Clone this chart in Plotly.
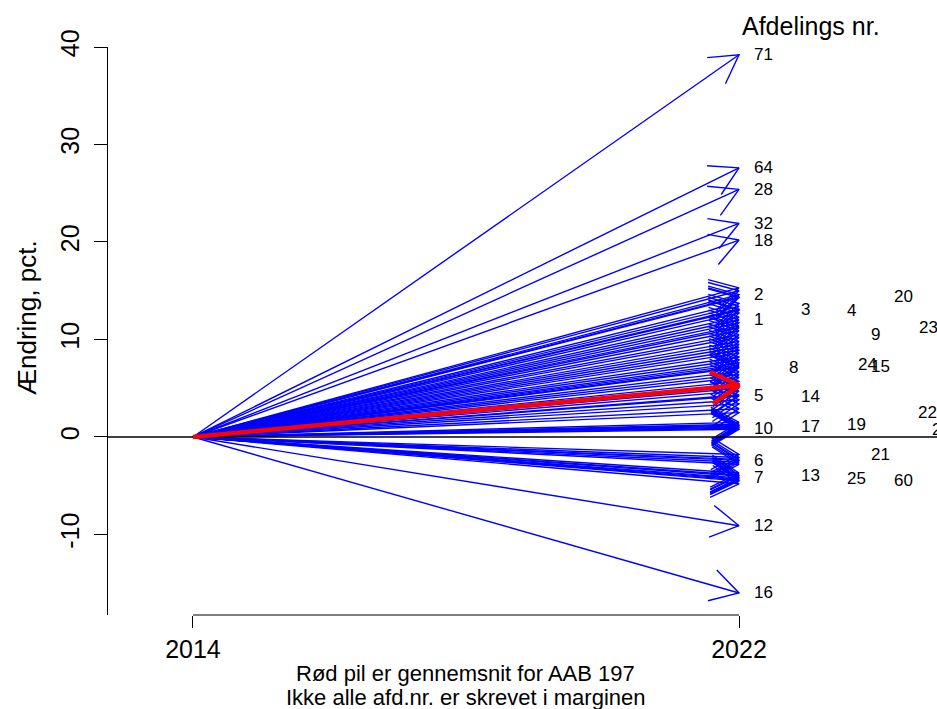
import math
import plotly.graph_objects as go

# Change 2014 -> 2022 per department (afdeling), in percent
YEAR_START = 2014
YEAR_END = 2022

# Departments whose number is written in the margin
afd_nr = [71, 64, 28, 32, 18, 2, 20, 3, 4, 1, 23, 9, 24, 15, 8,
          5, 14, 22, 19, 17, 10, 26, 21, 6, 13, 7, 25, 60, 12, 16]
afd_change = [39.2, 27.6, 25.4, 21.9, 20.2, 14.6, 14.4, 13.1, 13.0, 12.0, 11.2, 10.5, 7.4, 7.2, 7.1,
              4.3, 4.2, 2.5, 1.3, 1.1, 0.9, 0.8, -1.8, -2.4, -3.9, -4.2, -4.3, -4.5, -9.1, -16.0]

# Remaining departments (not labelled in the margin)
other_change = [15.3, 15.0, 14.3, 13.7, 13.4, 12.7, 12.3, 11.7, 11.4, 10.9, 10.2, 9.8, 9.5, 9.2,
                8.9, 8.6, 8.2, 7.9, 7.6, 6.7, 6.4, 6.1, 5.7, 5.4, 5.0, 4.7, 3.8, 3.4, 2.9,
                1.5, 1.2, 1.0, -2.1, -2.3, -2.6, -2.8, -3.7, -4.0, -4.4, -4.8]

# Average for the whole association (AAB)
mean_change = 5.3

# Y axis ticks
y_ticks = [-10, 0, 10, 20, 30, 40]

# Horizontal placement of the margin labels (years to the right of the arrow tips)
label_shift = {71: 0.19, 64: 0.19, 28: 0.19, 32: 0.19, 18: 0.19, 2: 0.19, 20: 2.24, 3: 0.88,
               4: 1.55, 1: 0.19, 23: 2.61, 9: 1.90, 24: 1.71, 15: 1.90, 8: 0.70, 5: 0.19,
               14: 0.88, 22: 2.59, 19: 1.55, 17: 0.88, 10: 0.19, 26: 2.80, 21: 1.90, 6: 0.19,
               13: 0.88, 7: 0.19, 25: 1.55, 60: 2.24, 12: 0.19, 16: 0.19}

# Layout geometry
W, H = 937, 709
M_L, M_R, M_T, M_B = 108, 0, 47, 94
PLOT_W, PLOT_H = W - M_L - M_R, H - M_T - M_B
XRANGE = [2012.755, 2024.901]
YRANGE = [-18.26, 40.0]
PX_X = PLOT_W / (XRANGE[1] - XRANGE[0])
PX_Y = PLOT_H / (YRANGE[1] - YRANGE[0])

HEAD_LEN = 32.0               # arrow head length in pixels
HEAD_ANGLE = math.radians(30)
FONT = "Liberation Sans, Arial, sans-serif"


def arrow_path(values):
    """Shaft plus open V head for each arrow from (2014, 0) to (2022, v)."""
    xs, ys = [], []
    for v in values:
        x0, y0, x1, y1 = YEAR_START, 0.0, YEAR_END, v
        ang = math.atan2((y1 - y0) * PX_Y, (x1 - x0) * PX_X)
        xs += [x0, x1, None]
        ys += [y0, y1, None]
        back = ang + math.pi
        h1 = (x1 + HEAD_LEN * math.cos(back + HEAD_ANGLE) / PX_X,
              y1 + HEAD_LEN * math.sin(back + HEAD_ANGLE) / PX_Y)
        h2 = (x1 + HEAD_LEN * math.cos(back - HEAD_ANGLE) / PX_X,
              y1 + HEAD_LEN * math.sin(back - HEAD_ANGLE) / PX_Y)
        xs += [h1[0], x1, h2[0], None]
        ys += [h1[1], y1, h2[1], None]
    return xs, ys


fig = go.Figure()

bx, by = arrow_path(afd_change + other_change)
fig.add_trace(go.Scatter(x=bx, y=by, mode="lines", line=dict(color="#0000FF", width=1.4),
                         hoverinfo="skip", showlegend=False))

# Zero reference line across the plot
fig.add_trace(go.Scatter(x=XRANGE, y=[0, 0], mode="lines", line=dict(color="black", width=1.5),
                         hoverinfo="skip", showlegend=False))

rx, ry = arrow_path([mean_change])
fig.add_trace(go.Scatter(x=rx, y=ry, mode="lines", line=dict(color="#FF0000", width=4.5),
                         hoverinfo="skip", showlegend=False))

annotations = []
for nr, v in zip(afd_nr, afd_change):
    annotations.append(dict(x=YEAR_END + label_shift[nr], y=v, xref="x", yref="y",
                            text=str(nr), showarrow=False, xanchor="left", yanchor="middle",
                            font=dict(family=FONT, size=17, color="black")))

annotations.append(dict(x=YEAR_END + 0.01, y=1 + 21 / PLOT_H, xref="x", yref="paper",
                        text="Afdelings nr.", showarrow=False, xanchor="left", yanchor="middle",
                        font=dict(family=FONT, size=25, color="black")))
annotations.append(dict(x=-81 / PLOT_W, y=1 - (318 - M_T) / PLOT_H, xref="paper", yref="paper",
                        text="Ændring, pct.", showarrow=False, textangle=-90,
                        xanchor="center", yanchor="middle",
                        font=dict(family=FONT, size=26, color="black")))
mid = (YEAR_START + YEAR_END) / 2
annotations.append(dict(x=mid, y=-58 / PLOT_H, xref="x", yref="paper",
                        text="Rød pil er gennemsnit for AAB 197", showarrow=False,
                        xanchor="center", yanchor="middle",
                        font=dict(family=FONT, size=22, color="black")))
annotations.append(dict(x=mid, y=-82 / PLOT_H, xref="x", yref="paper",
                        text="Ikke alle afd.nr. er skrevet i marginen", showarrow=False,
                        xanchor="center", yanchor="middle",
                        font=dict(family=FONT, size=22, color="black")))

fig.update_layout(
    width=W, height=H,
    margin=dict(l=M_L, r=M_R, t=M_T, b=M_B, pad=0),
    paper_bgcolor="white", plot_bgcolor="white",
    annotations=annotations,
    shapes=[dict(type="line", xref="x", yref="paper", x0=YEAR_START, x1=YEAR_END, y0=0, y1=0,
                 line=dict(color="black", width=1.2))],
    xaxis=dict(range=XRANGE, tickvals=[YEAR_START, YEAR_END],
               ticktext=[str(YEAR_START), str(YEAR_END)], ticks="outside", ticklen=12,
               tickcolor="black", tickwidth=1.2, showline=False, showgrid=False, zeroline=False,
               tickfont=dict(family=FONT, size=25, color="black")),
    yaxis=dict(range=YRANGE, tickvals=y_ticks, ticktext=[str(t) for t in y_ticks],
               ticks="outside", ticklen=13,
               tickcolor="black", tickwidth=1.2, showline=True, linecolor="black", linewidth=1.2,
               showgrid=False, zeroline=False, tickangle=-90, ticklabelstandoff=5,
               tickfont=dict(family=FONT, size=25, color="black")),
)

fig.write_html("out.html")
